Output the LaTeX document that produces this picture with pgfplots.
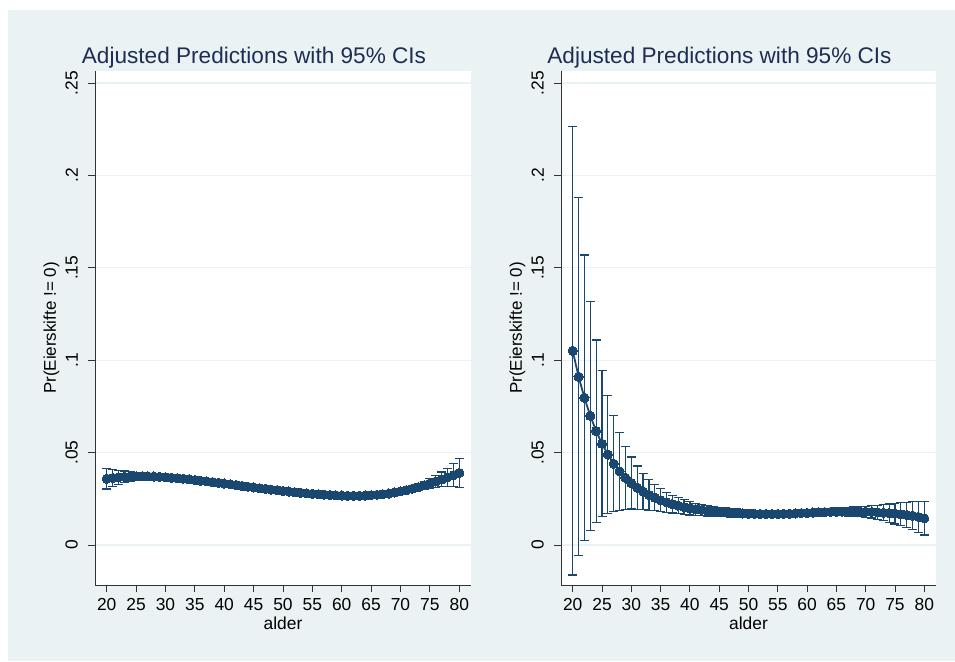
\documentclass[border=0pt]{standalone}
\usepackage{pgfplots}
\pgfplotsset{compat=1.18}
\usepackage{pgfplotstable}
\usepackage{fontspec}
\setmainfont{Liberation Sans}
\definecolor{bg}{HTML}{EAF2F3}
\definecolor{navy}{HTML}{1A476F}
\definecolor{ttl}{HTML}{1E2D55}

\pgfplotstableread{
age y e
20 .0359 .0056
21 .0363 .0047
22 .0366 .0039
23 .0369 .0032
24 .0371 .0026
25 .0372 .0021
26 .0372 .0017
27 .0372 .0014
28 .0371 .0012
29 .0369 .0010
30 .0367 .0009
31 .0364 .0008
32 .0362 .0008
33 .0359 .0007
34 .0356 .0007
35 .0352 .0007
36 .0348 .0007
37 .0345 .0007
38 .0341 .0007
39 .0337 .0007
40 .0333 .0007
41 .0329 .0007
42 .0325 .0007
43 .0320 .0007
44 .0316 .0007
45 .0312 .0007
46 .0308 .0007
47 .0304 .0007
48 .0300 .0007
49 .0297 .0007
50 .0293 .0007
51 .0290 .0007
52 .0286 .0007
53 .0283 .0007
54 .0280 .0007
55 .0277 .0007
56 .0275 .0007
57 .0273 .0007
58 .0271 .0007
59 .0269 .0007
60 .0268 .0007
61 .0267 .0007
62 .0267 .0007
63 .0267 .0007
64 .0268 .0007
65 .0270 .0007
66 .0272 .0008
67 .0275 .0008
68 .0279 .0009
69 .0285 .0010
70 .0291 .0011
71 .0297 .0013
72 .0305 .0016
73 .0313 .0019
74 .0323 .0023
75 .0333 .0028
76 .0344 .0033
77 .0355 .0040
78 .0367 .0048
79 .0378 .0062
80 .0390 .0079
}\leftdata

\pgfplotstableread{
age y e
20 .1051 .1213
21 .0911 .0969
22 .0797 .0772
23 .0699 .0618
24 .0617 .0493
25 .0548 .0395
26 .0490 .0320
27 .0440 .0260
28 .0399 .0210
29 .0364 .0171
30 .0336 .0141
31 .0311 .0117
32 .0290 .0098
33 .0272 .0083
34 .0257 .0071
35 .0243 .0061
36 .0232 .0054
37 .0222 .0048
38 .0214 .0043
39 .0206 .0040
40 .0199 .0036
41 .0194 .0033
42 .0190 .0031
43 .0186 .0029
44 .0183 .0027
45 .0180 .0025
46 .0177 .0024
47 .0175 .0023
48 .0173 .0022
49 .0171 .0021
50 .0170 .0020
51 .0169 .0018
52 .0168 .0017
53 .0168 .0016
54 .0168 .0015
55 .0168 .0015
56 .0169 .0015
57 .0170 .0015
58 .0171 .0015
59 .0173 .0016
60 .0174 .0016
61 .0176 .0017
62 .0177 .0018
63 .0178 .0019
64 .0179 .0020
65 .0180 .0021
66 .0181 .0022
67 .0181 .0024
68 .0181 .0025
69 .0181 .0027
70 .0180 .0029
71 .0179 .0033
72 .0177 .0038
73 .0175 .0043
74 .0173 .0049
75 .0170 .0056
76 .0167 .0062
77 .0163 .0069
78 .0159 .0076
79 .0152 .0083
80 .0145 .0091
}\rightdata

\pgfplotsset{
  stata/.style={
    scale only axis, width=376pt, height=514pt,
    xmin=18, xmax=82, ymin=-0.0216, ymax=0.2565,
    axis x line*=bottom, axis y line*=left,
    axis line style={line width=0.9pt, color=black!80},
    axis background/.style={fill=white},
    xtick={20,25,30,35,40,45,50,55,60,65,70,75,80},
    xticklabels={20,25,30,35,40,45,50,55,60,65,70,75,80},
    ytick={0,0.05,0.1,0.15,0.2,0.25},
    yticklabels={0,.05,.1,.15,.2,.25},
    tick align=outside, major tick length=7pt,
    tick style={line width=0.9pt, color=black!80},
    ymajorgrids, grid style={bg, line width=1.2pt},
    yticklabel style={rotate=90, anchor=south, inner sep=0pt, yshift=10pt,
      font=\fontsize{17.4}{18}\selectfont},
    xticklabel style={anchor=north, inner sep=0pt, yshift=-6pt,
      font=\fontsize{17.4}{18}\selectfont},
    xlabel={alder},
    ylabel={Pr(Eierskifte != 0)},
    xlabel style={font=\fontsize{17.4}{18}\selectfont, inner sep=0pt, yshift=-6pt},
    ylabel style={font=\fontsize{17}{18}\selectfont, inner sep=0pt},
    ylabel shift=6pt,
    clip=false,
  },
  ser/.style={
    navy, line width=1.8pt,
    mark=*, mark size=4.6pt,
    mark options={fill=navy, draw=navy, line width=0pt},
    error bars/.cd, y dir=both, y explicit,
    error bar style={line width=1.2pt, navy},
    error mark options={navy, rotate=90, mark size=4.5pt, line width=1.2pt},
  },
}

\begin{document}
\begin{tikzpicture}[x=1pt,y=1pt]
\fill[white] (0,0) rectangle (955,661);
\fill[bg] (8,0) rectangle (955,651);

\begin{axis}[stata, at={(95pt,76pt)}, anchor=south west]
\addplot[ser] table[x=age, y=y, y error=e] {\leftdata};
\end{axis}

\begin{axis}[stata, at={(561pt,76pt)}, anchor=south west, width=375pt]
\addplot[ser] table[x=age, y=y, y error=e] {\rightdata};
\end{axis}

\node[anchor=base, text=ttl, font=\fontsize{22.6}{24}\selectfont, inner sep=0pt]
  at (254,597) {Adjusted Predictions with 95\% CIs};
\node[anchor=base, text=ttl, font=\fontsize{22.6}{24}\selectfont, inner sep=0pt]
  at (719.5,597) {Adjusted Predictions with 95\% CIs};
\end{tikzpicture}
\end{document}
